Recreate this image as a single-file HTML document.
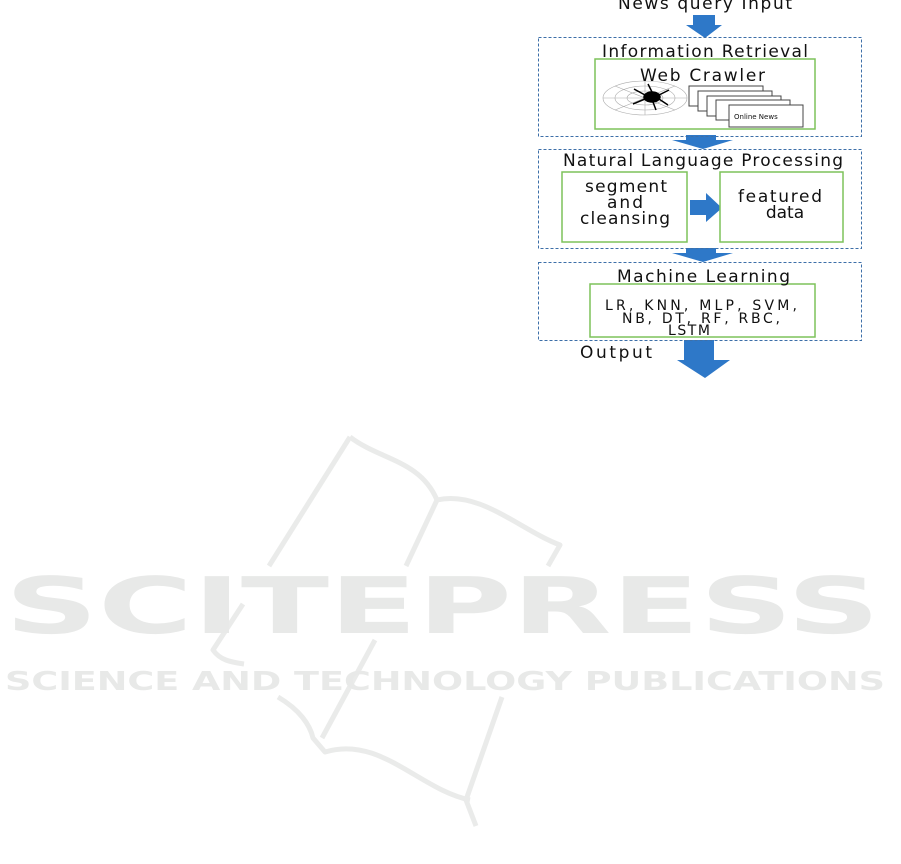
<!DOCTYPE html>
<html><head><meta charset="utf-8"><style>
html,body{margin:0;padding:0;background:#fff;width:901px;height:864px;overflow:hidden}
svg{display:block}
text{font-family:"DejaVu Sans","Liberation Sans",sans-serif;fill:#111}
</style></head><body>
<svg width="901" height="864" viewBox="0 0 901 864" xmlns="http://www.w3.org/2000/svg">
<g fill="none" stroke="#eaebea" stroke-width="5" stroke-linejoin="round">
<path d="M350,437 L269,566"/>
<path d="M350,437 C380,460 420,460 437,500 C480,490 520,530 560,545 L548,566"/>
<path d="M437,500 L406,566"/>
<path d="M243,604 L213,650 C220,660 230,662 244,664"/>
<path d="M375,640 L322,738"/>
<path d="M278,697 C300,710 310,725 313,738 L325,752 C380,735 420,790 470,800"/>
<path d="M502,697 L466,800 L476,826"/>
</g>
<text x="5" y="633" font-size="78" font-weight="bold" textLength="875" lengthAdjust="spacingAndGlyphs" style="fill:#e8e9e8">SCITEPRESS</text>
<text x="5" y="690" font-size="26" font-weight="bold" textLength="880" lengthAdjust="spacingAndGlyphs" style="fill:#e8e9e8">SCIENCE AND TECHNOLOGY PUBLICATIONS</text>

<g fill="#2e78c8">
<polygon points="693,15 715,15 715,25 722,25 705,38 686,25 693,25"/>
<polygon points="686,135 716,135 716,140 733,140 703,149 672,140 686,140"/>
<polygon points="686,248 716,248 716,253 733,253 703,262 672,253 686,253"/>
<polygon points="684,340 714,340 714,360 730,360 705,378 677,360 684,360"/>
<polygon points="690,200 706,200 706,193 722,208 706,222 706,215 690,215"/>
</g>
<g fill="none" stroke="#3d6fa8" stroke-width="1" stroke-dasharray="3,2">
<rect x="538.5" y="37.5" width="323" height="99"/>
<rect x="538.5" y="149.5" width="323" height="99"/>
<rect x="538.5" y="262.5" width="323" height="78"/>
</g>
<g fill="#fff" stroke="#7dc25a" stroke-width="1.5">
<rect x="595" y="59" width="220" height="70"/>
<rect x="562" y="172" width="125" height="70"/>
<rect x="720" y="172" width="123" height="70"/>
<rect x="590" y="284" width="225" height="53"/>
</g>
<g fill="none" stroke="#aaa" stroke-width="0.6">
<ellipse cx="645" cy="98" rx="42" ry="17"/>
<ellipse cx="645" cy="98" rx="30" ry="12"/>
<ellipse cx="645" cy="98" rx="18" ry="7"/>
<path d="M603,98 L687,98 M645,81 L645,115 M615,86 L675,110 M615,110 L675,86"/>
</g>
<g stroke="#000" stroke-width="1.5" fill="#000">
<ellipse cx="652" cy="97" rx="8" ry="5"/>
<path d="M645,95 L634,89 M645,99 L633,104 M659,95 L669,90 M659,99 L668,105 M652,92 L648,84 M653,102 L656,110" fill="none"/>
</g>
<g fill="#fff" stroke="#444" stroke-width="1">
<rect x="689" y="86" width="74" height="20"/>
<rect x="698" y="91" width="74" height="20"/>
<rect x="707" y="96" width="74" height="20"/>
<rect x="716" y="100" width="74" height="20"/>
<rect x="729" y="105" width="74" height="22"/>
</g>
<text x="734" y="119" font-size="7">Online News</text>

<text x="618" y="9" font-size="17" textLength="174" lengthAdjust="spacing">News query Input</text>
<text x="602" y="57" font-size="17" textLength="206" lengthAdjust="spacing">Information Retrieval</text>
<text x="640" y="81" font-size="17" textLength="125" lengthAdjust="spacing">Web Crawler</text>
<text x="563" y="166" font-size="17" textLength="280" lengthAdjust="spacing">Natural Language Processing</text>
<text x="585" y="192" font-size="17" textLength="82" lengthAdjust="spacing">segment</text>
<text x="607" y="208" font-size="17" textLength="36" lengthAdjust="spacing">and</text>
<text x="580" y="224" font-size="17" textLength="90" lengthAdjust="spacing">cleansing</text>
<text x="738" y="202" font-size="17" textLength="84" lengthAdjust="spacing">featured</text>
<text x="785" y="218" font-size="17" text-anchor="middle">data</text>
<text x="617" y="282" font-size="17" textLength="173" lengthAdjust="spacing">Machine Learning</text>
<text x="605" y="310" font-size="14" textLength="192" lengthAdjust="spacing">LR, KNN, MLP, SVM,</text>
<text x="622" y="323" font-size="14" textLength="158" lengthAdjust="spacing">NB, DT, RF, RBC,</text>
<text x="668" y="335" font-size="14" textLength="42" lengthAdjust="spacing">LSTM</text>
<text x="580" y="358" font-size="17" textLength="72" lengthAdjust="spacing">Output</text>
</svg>
</body></html>
